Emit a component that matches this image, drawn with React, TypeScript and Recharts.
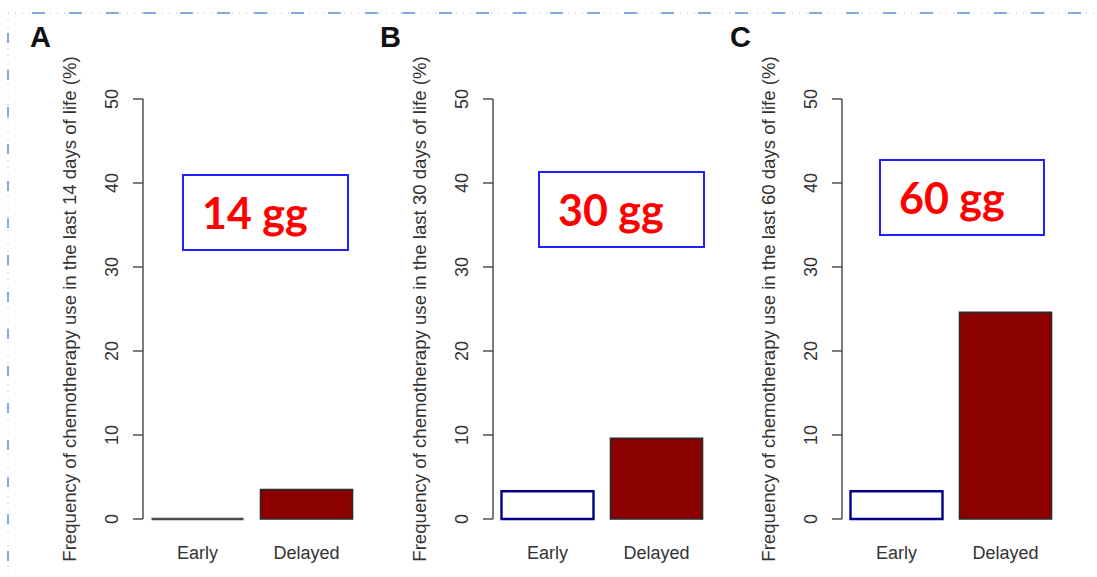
import { Bar, BarChart, XAxis, YAxis } from "recharts";

const groups = ["Early", "Delayed"];
const panelLetters = ["A", "B", "C"];
const windowDays = [14, 30, 60];
const windowTags = ["14 gg", "30 gg", "60 gg"];
const chemo14 = [0, 3.5];
const chemo30 = [3.3, 9.6];
const chemo60 = [3.3, 24.6];
const yTicks = [0, 10, 20, 30, 40, 50];

const barFills = ["#ffffff", "#8b0000"];
const barStrokes = ["#00008b", "#2b2b2b"];

const FONT = '"Liberation Sans", Arial, Helvetica, sans-serif';
const TEXT = "#333";
const AXIS_W = 100;

// layout per panel: chart left/width on the page, plot left, tag box
const panels = [
  { left: 0, width: 365, plotLeft: 143, letterX: 30, box: { x: 182, y: 174, w: 167, h: 77 } },
  { left: 365, width: 350, plotLeft: 493, letterX: 380, box: { x: 538, y: 171, w: 167, h: 77 } },
  { left: 715, width: 382, plotLeft: 842, letterX: 730, box: { x: 879, y: 159, w: 166, h: 77 } }
];

const series = [chemo14, chemo30, chemo60];

function BarShape(props: any) {
  const { x, y, width, height, index } = props;
  const zero = !height || height < 0.5;
  const d = `M${x},${y}h${width}v${height || 0}h${-width}Z`;
  return (
    <path
      d={d}
      fill={barFills[index]}
      stroke={zero ? "#4a4a4a" : barStrokes[index]}
      strokeWidth={index === 0 ? 2.4 : 1.6}
    />
  );
}

function YTick(props: any) {
  const { y, payload, axisRight } = props;
  const cx = axisRight - 31;
  return (
    <text
      x={cx}
      y={y}
      transform={`rotate(-90, ${cx}, ${y})`}
      textAnchor="middle"
      dominantBaseline="central"
      fontFamily={FONT}
      fontSize={18}
      fill={TEXT}
    >
      {payload.value}
    </text>
  );
}

function YTitle(props: any) {
  const { viewBox, text } = props;
  const cx = viewBox.x + viewBox.width - 74;
  const cy = viewBox.y + viewBox.height / 2;
  return (
    <text
      x={cx}
      y={cy}
      transform={`rotate(-90, ${cx}, ${cy})`}
      textAnchor="middle"
      dominantBaseline="central"
      fontFamily={FONT}
      fontSize={18.6}
      fill={TEXT}
    >
      {text}
    </text>
  );
}

function Panel({ i }: { i: number }) {
  const p = panels[i];
  const data = groups.map((g, k) => ({ group: g, value: series[i][k] }));
  const mLeft = p.plotLeft - p.left - AXIS_W;
  const mRight = p.width - (p.plotLeft - p.left) - 218;
  const axisRight = mLeft + AXIS_W;
  return (
    <div style={{ position: "absolute", left: p.left, top: 0 }}>
      <BarChart
        width={p.width}
        height={577}
        data={data}
        margin={{ top: 99, right: mRight, left: mLeft, bottom: 18 }}
        barCategoryGap={8.5}
      >
        <XAxis
          dataKey="group"
          axisLine={false}
          tickLine={false}
          tickSize={0}
          tickMargin={27}
          height={40}
          tick={{ fontFamily: FONT, fontSize: 18, fill: TEXT }}
        />
        <YAxis
          type="number"
          domain={[0, 50]}
          ticks={yTicks}
          width={AXIS_W}
          tickSize={10}
          axisLine={{ stroke: "#444", strokeWidth: 1.4 }}
          tickLine={{ stroke: "#444", strokeWidth: 1.4 }}
          tick={<YTick axisRight={axisRight} />}
          label={
            <YTitle
              text={`Frequency of chemotherapy use in the last ${windowDays[i]} days of life (%)`}
            />
          }
        />
        <Bar dataKey="value" isAnimationActive={false} shape={<BarShape />} />
      </BarChart>
    </div>
  );
}

export default function App() {
  return (
    <div
      style={{
        position: "absolute",
        left: 0,
        top: 0,
        width: 1097,
        height: 577,
        background: "#fff",
        overflow: "hidden"
      }}
    >
      <svg width={1097} height={577} style={{ position: "absolute", left: 0, top: 0 }}>
        <line x1={8} y1={13} x2={1097} y2={13} stroke="#b0b8c4" strokeWidth={1} strokeDasharray="1 6" />
        <line x1={8} y1={13} x2={1097} y2={13} stroke="#5b93d3" strokeWidth={1.5} strokeDasharray="13 24" strokeDashoffset={-24} />
        <line x1={8} y1={13} x2={8} y2={577} stroke="#b0b8c4" strokeWidth={1} strokeDasharray="1 6" />
        <line x1={8} y1={13} x2={8} y2={577} stroke="#5b93d3" strokeWidth={1.5} strokeDasharray="10 27" strokeDashoffset={-20} />
      </svg>
      {panels.map((p, i) => (
        <Panel key={i} i={i} />
      ))}
      {panels.map((p, i) => (
        <div
          key={`l${i}`}
          style={{
            position: "absolute",
            left: p.letterX,
            top: 21,
            fontFamily: FONT,
            fontWeight: 700,
            fontSize: 29,
            color: "#111"
          }}
        >
          {panelLetters[i]}
        </div>
      ))}
      {panels.map((p, i) => (
        <div
          key={`b${i}`}
          style={{
            position: "absolute",
            left: p.box.x,
            top: p.box.y,
            width: p.box.w,
            height: p.box.h,
            boxSizing: "border-box",
            border: "2px solid #1f1fff",
            background: "#fff"
          }}
        >
          <div
            style={{
              position: "absolute",
              left: 18,
              top: 11,
              fontFamily: "Lato, 'Open Sans', sans-serif",
              fontWeight: 700,
              fontSize: 43,
              color: "#ff0000",
              whiteSpace: "nowrap"
            }}
          >
            {windowTags[i]}
          </div>
        </div>
      ))}
    </div>
  );
}
